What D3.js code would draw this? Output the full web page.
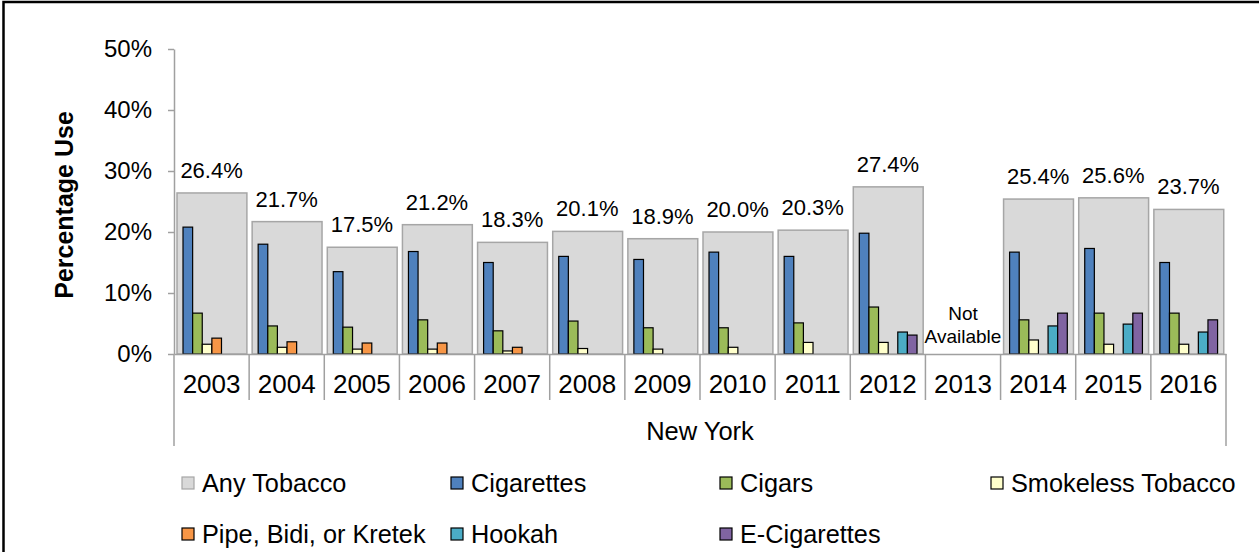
<!DOCTYPE html>
<html>
<head>
<meta charset="utf-8">
<script src="https://cdnjs.cloudflare.com/ajax/libs/d3/7.8.5/d3.min.js"></script>
<style>
  body { margin: 0; background: #fff; }
  svg text { font-family: "Liberation Sans", Arial, sans-serif; fill: #000; }
</style>
</head>
<body>
<div id="chart"></div>
<script>
var years = ["2003", "2004", "2005", "2006", "2007", "2008", "2009", "2010", "2011", "2012", "2013", "2014", "2015", "2016"];
var anyTobacco = [26.4, 21.7, 17.5, 21.2, 18.3, 20.1, 18.9, 20.0, 20.3, 27.4, null, 25.4, 25.6, 23.7];
var cigarettes = [20.8, 18.0, 13.5, 16.8, 15.0, 16.0, 15.5, 16.7, 16.0, 19.8, null, 16.7, 17.3, 15.0];
var cigars = [6.7, 4.6, 4.4, 5.6, 3.8, 5.4, 4.3, 4.3, 5.1, 7.7, null, 5.6, 6.7, 6.7];
var smokeless = [1.6, 1.1, 0.8, 0.8, 0.5, 0.9, 0.8, 1.1, 1.9, 1.9, null, 2.3, 1.6, 1.6];
var pipe = [2.6, 2.0, 1.8, 1.8, 1.1, null, null, null, null, null, null, null, null, null];
var hookah = [null, null, null, null, null, null, null, null, null, 3.6, null, 4.6, 4.9, 3.6];
var eCigs = [null, null, null, null, null, null, null, null, null, 3.1, null, 6.7, 6.7, 5.6];
var yTicks = [0, 10, 20, 30, 40, 50];
var groupLabel = "New York";
var yTitle = "Percentage Use";

function drawChart() {
    var subSeries = [
        { name: "Cigarettes", values: cigarettes, color: "#4f81bd" },
        { name: "Cigars", values: cigars, color: "#9bbb59" },
        { name: "Smokeless Tobacco", values: smokeless, color: "#ffffcc" },
        { name: "Pipe, Bidi, or Kretek", values: pipe, color: "#f79646" },
        { name: "Hookah", values: hookah, color: "#4bacc6" },
        { name: "E-Cigarettes", values: eCigs, color: "#8064a2" }
    ];

    var w = 1259, h = 552;
    var padLeft = 174, padRight = 1226, padTop = 49, padBottom = 354;

    var svg = d3.select("#chart").append("svg")
        .attr("width", w)
        .attr("height", h);

    // outer frame (only top and left visible)
    svg.append("rect")
        .attr("x", 3.5).attr("y", 2)
        .attr("width", w + 10).attr("height", h + 10)
        .attr("fill", "none")
        .attr("stroke", "#000")
        .attr("stroke-width", 2.5);

    var x = d3.scaleBand().domain(years).range([padLeft, padRight]).padding(0);
    var y = d3.scaleLinear().domain([0, 50]).range([padBottom, padTop]);
    var bw = x.bandwidth();
    var xSub = d3.scaleBand()
        .domain(subSeries.map(function(d) { return d.name; }))
        .range([bw * 0.12, bw * 0.888])
        .padding(0);

    // gray "Any Tobacco" bars
    var totals = years.map(function(yr, i) { return { year: yr, v: anyTobacco[i] }; });
    svg.selectAll(".any")
        .data(totals.filter(function(d) { return d.v != null; }))
        .enter().append("rect")
        .attr("class", "any")
        .attr("x", function(d) { return x(d.year) + bw * 0.04; })
        .attr("y", function(d) { return y(d.v); })
        .attr("width", bw * 0.93)
        .attr("height", function(d) { return y(0) - y(d.v); })
        .attr("fill", "#d9d9d9")
        .attr("stroke", "#a6a6a6")
        .attr("stroke-width", 1.5);

    // sub series bars
    subSeries.forEach(function(s) {
        var pts = years.map(function(yr, i) { return { year: yr, v: s.values[i] }; })
            .filter(function(d) { return d.v != null; });
        svg.selectAll(null)
            .data(pts)
            .enter().append("rect")
            .attr("x", function(d) { return x(d.year) + xSub(s.name); })
            .attr("y", function(d) { return y(d.v); })
            .attr("width", xSub.bandwidth())
            .attr("height", function(d) { return y(0) - y(d.v); })
            .attr("fill", s.color)
            .attr("stroke", "#000")
            .attr("stroke-width", 1.2);
    });

    // value labels
    svg.selectAll(".val")
        .data(totals.filter(function(d) { return d.v != null; }))
        .enter().append("text")
        .attr("class", "val")
        .attr("x", function(d) { return x(d.year) + bw / 2; })
        .attr("y", function(d) { return y(d.v) - 15; })
        .attr("text-anchor", "middle")
        .style("font-size", "22px")
        .text(function(d) { return d.v.toFixed(1) + "%"; });

    // not available
    var na = svg.selectAll(".na")
        .data(totals.filter(function(d) { return d.v == null; }))
        .enter().append("text")
        .attr("class", "na")
        .attr("text-anchor", "middle")
        .style("font-size", "19px");
    na.append("tspan")
        .attr("x", function(d) { return x(d.year) + bw / 2; })
        .attr("y", y(0) - 34)
        .text("Not");
    na.append("tspan")
        .attr("x", function(d) { return x(d.year) + bw / 2; })
        .attr("y", y(0) - 11)
        .text("Available");

    // y axis
    var yAxis = svg.append("g")
        .attr("transform", "translate(" + padLeft + ",0)")
        .call(d3.axisLeft(y)
            .tickValues(yTicks)
            .tickFormat(function(d) { return d + "%"; })
            .tickSize(6)
            .tickSizeOuter(0)
            .tickPadding(16));
    yAxis.selectAll("path, line").attr("stroke", "#a0a0a0").attr("stroke-width", 1.5);
    yAxis.selectAll("text").style("font-size", "24px").attr("font-family", null);

    // category axis
    var xAxis = svg.append("g")
        .attr("transform", "translate(0," + padBottom + ")")
        .call(d3.axisBottom(x).tickSize(0).tickPadding(21));
    xAxis.select(".domain").attr("stroke", "#a0a0a0").attr("stroke-width", 1.5);
    xAxis.selectAll("text").style("font-size", "26px").attr("font-family", null);

    var bounds = years.map(function(yr) { return x(yr); }).concat([padRight]);
    svg.selectAll(".sep")
        .data(bounds)
        .enter().append("line")
        .attr("class", "sep")
        .attr("x1", function(d) { return d; })
        .attr("x2", function(d) { return d; })
        .attr("y1", padBottom)
        .attr("y2", function(d, i) { return (i === 0 || i === bounds.length - 1) ? 446 : 400; })
        .attr("stroke", "#a0a0a0")
        .attr("stroke-width", 1.5);

    svg.append("text")
        .attr("x", (padLeft + padRight) / 2)
        .attr("y", 440)
        .attr("text-anchor", "middle")
        .style("font-size", "25.5px")
        .text(groupLabel);

    // y title
    svg.append("text")
        .attr("transform", "translate(73,205) rotate(-90)")
        .attr("text-anchor", "middle")
        .style("font-size", "25px")
        .style("font-weight", "bold")
        .text(yTitle);

    // legend
    var legendItems = [{ name: "Any Tobacco", color: "#d9d9d9", stroke: "#a6a6a6" }]
        .concat(subSeries.map(function(s) { return { name: s.name, color: s.color, stroke: "#000" }; }));
    var colX = [182, 451, 720, 991];
    var rowY = [477, 528];

    var leg = svg.selectAll(".leg")
        .data(legendItems)
        .enter().append("g")
        .attr("class", "leg")
        .attr("transform", function(d, i) {
            return "translate(" + colX[i % 4] + "," + rowY[Math.floor(i / 4)] + ")";
        });
    leg.append("rect")
        .attr("width", 12).attr("height", 12)
        .attr("fill", function(d) { return d.color; })
        .attr("stroke", function(d) { return d.stroke; })
        .attr("stroke-width", 1.2);
    leg.append("text")
        .attr("x", 20)
        .attr("y", 15)
        .style("font-size", "25.3px")
        .text(function(d) { return d.name; });
}

drawChart();
</script>
</body>
</html>
